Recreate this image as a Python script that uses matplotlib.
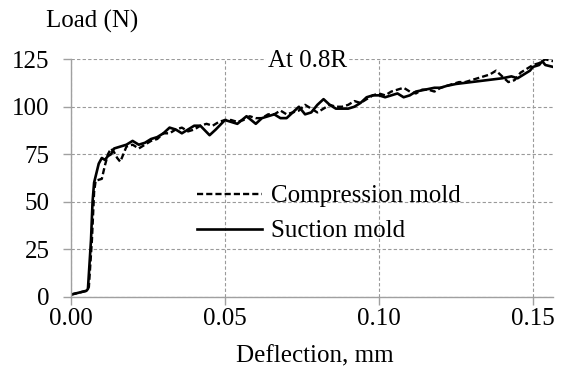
import matplotlib
matplotlib.use("Agg")
import matplotlib.pyplot as plt

plt.rcParams["font.family"] = ["Liberation Serif", "DejaVu Serif"]

# Suction mold (solid)
suction_x = [0.0, 0.005, 0.0055, 0.0065, 0.007, 0.0075, 0.009, 0.010, 0.011, 0.012, 0.013,
             0.014, 0.016, 0.018, 0.020, 0.022, 0.024, 0.026, 0.028, 0.030, 0.032, 0.034,
             0.036, 0.038, 0.040, 0.042, 0.045, 0.047, 0.050, 0.052, 0.054, 0.057, 0.060,
             0.062, 0.064, 0.066, 0.068, 0.070, 0.072, 0.074, 0.076, 0.078, 0.080, 0.082,
             0.084, 0.086, 0.088, 0.090, 0.092, 0.094, 0.096, 0.098, 0.100, 0.102, 0.104,
             0.106, 0.108, 0.110, 0.112, 0.115, 0.118, 0.120, 0.122, 0.125, 0.130, 0.135,
             0.140, 0.143, 0.145, 0.147, 0.149, 0.150, 0.152, 0.153, 0.154, 0.1565]
suction_y = [1, 3, 4, 30, 50, 60, 70, 73, 72, 74, 75,
             78, 79, 80, 82, 80, 81, 83, 84, 86, 89, 88,
             86, 88, 90, 90, 85, 88, 93, 92, 91, 95, 91,
             94, 95, 96, 94, 94, 97, 100, 96, 97, 101, 104,
             101, 99, 99, 99, 100, 102, 105, 106, 106, 105, 106,
             107, 105, 106, 108, 109, 110, 110, 111, 112, 113, 114,
             115, 116, 115, 117, 119, 121, 122, 124, 122, 121]

# Compression mold (dashed)
comp_x = [0.0, 0.005, 0.0058, 0.0068, 0.0075, 0.008, 0.010, 0.011, 0.012, 0.013, 0.014,
          0.015, 0.016, 0.017, 0.018, 0.020, 0.022, 0.024, 0.026, 0.028, 0.030, 0.032,
          0.034, 0.036, 0.038, 0.040, 0.042, 0.044, 0.046, 0.048, 0.050, 0.052, 0.054,
          0.056, 0.058, 0.060, 0.062, 0.064, 0.066, 0.068, 0.070, 0.072, 0.074, 0.076,
          0.078, 0.080, 0.082, 0.084, 0.086, 0.088, 0.090, 0.092, 0.094, 0.096, 0.098,
          0.100, 0.102, 0.104, 0.106, 0.108, 0.110, 0.112, 0.114, 0.116, 0.118, 0.120,
          0.122, 0.124, 0.126, 0.128, 0.130, 0.132, 0.134, 0.136, 0.138, 0.140, 0.142,
          0.144, 0.146, 0.148, 0.150, 0.152, 0.154, 0.1565]
comp_y = [1, 3, 5, 30, 55, 61, 62, 69, 75, 78, 76,
          73, 71, 75, 79, 80, 78, 80, 82, 83, 86, 86,
          88, 89, 87, 88, 90, 91, 90, 92, 93, 93, 92,
          93, 95, 94, 94, 96, 96, 98, 96, 97, 98, 101,
          99, 97, 99, 101, 100, 100, 101, 103, 102, 104, 106,
          107, 106, 108, 109, 110, 108, 107, 109, 109, 108, 110,
          111, 112, 113, 113, 114, 115, 116, 117, 119, 116, 113,
          114, 118, 120, 122, 123, 125, 124]

x_ticks = [0.00, 0.05, 0.10, 0.15]
y_ticks = [0, 25, 50, 75, 100, 125]

W, H = 563, 376
fig = plt.figure(figsize=(W / 100, H / 100), dpi=100)
ax = fig.add_axes([71 / W, 1 - 296.5 / H, (553 - 71) / W, (296.5 - 59.3) / H])

ax.plot(comp_x, comp_y, color="black", linestyle=(0, (2.6, 1.3)), linewidth=1.7,
        label="Compression mold")
ax.plot(suction_x, suction_y, color="black", linestyle="-", linewidth=1.9,
        label="Suction mold")

ax.set_xlim(0, 0.1565)
ax.set_ylim(0, 125)
ax.set_xticks(x_ticks, [f"{v:.2f}" for v in x_ticks])
ax.set_yticks(y_ticks)
ax.grid(True, linestyle=(0, (3, 2)), color="#9a9a9a", linewidth=0.8)
ax.set_axisbelow(True)

for s in ["top", "right"]:
    ax.spines[s].set_visible(False)
for s in ["left", "bottom"]:
    ax.spines[s].set_color("#a0a0a0")
    ax.spines[s].set_linewidth(1.0)
ax.tick_params(axis="both", direction="out", length=5.5, width=1.0, color="#a0a0a0",
               labelsize=18)
ax.tick_params(axis="y", pad=10)
ax.tick_params(axis="x", pad=3)

ax.text(0.0768, 124.2, "At 0.8R", fontsize=18, ha="center", va="center",
        bbox=dict(facecolor="white", edgecolor="none", pad=1))

fig.text(46 / W, 1 - 21 / H, "Load (N)", fontsize=18, ha="left", va="center")
fig.text(315 / W, 1 - 356 / H, "Deflection, mm", fontsize=18, ha="center", va="center")

ax.legend(loc="center left", bbox_to_anchor=(197 / W, 1 - 213.5 / H),
          bbox_transform=fig.transFigure, frameon=False, fontsize=18,
          handlelength=2.6, handletextpad=0.35, labelspacing=0.5,
          borderpad=0, borderaxespad=0)

fig.savefig("out.png", dpi=100)
